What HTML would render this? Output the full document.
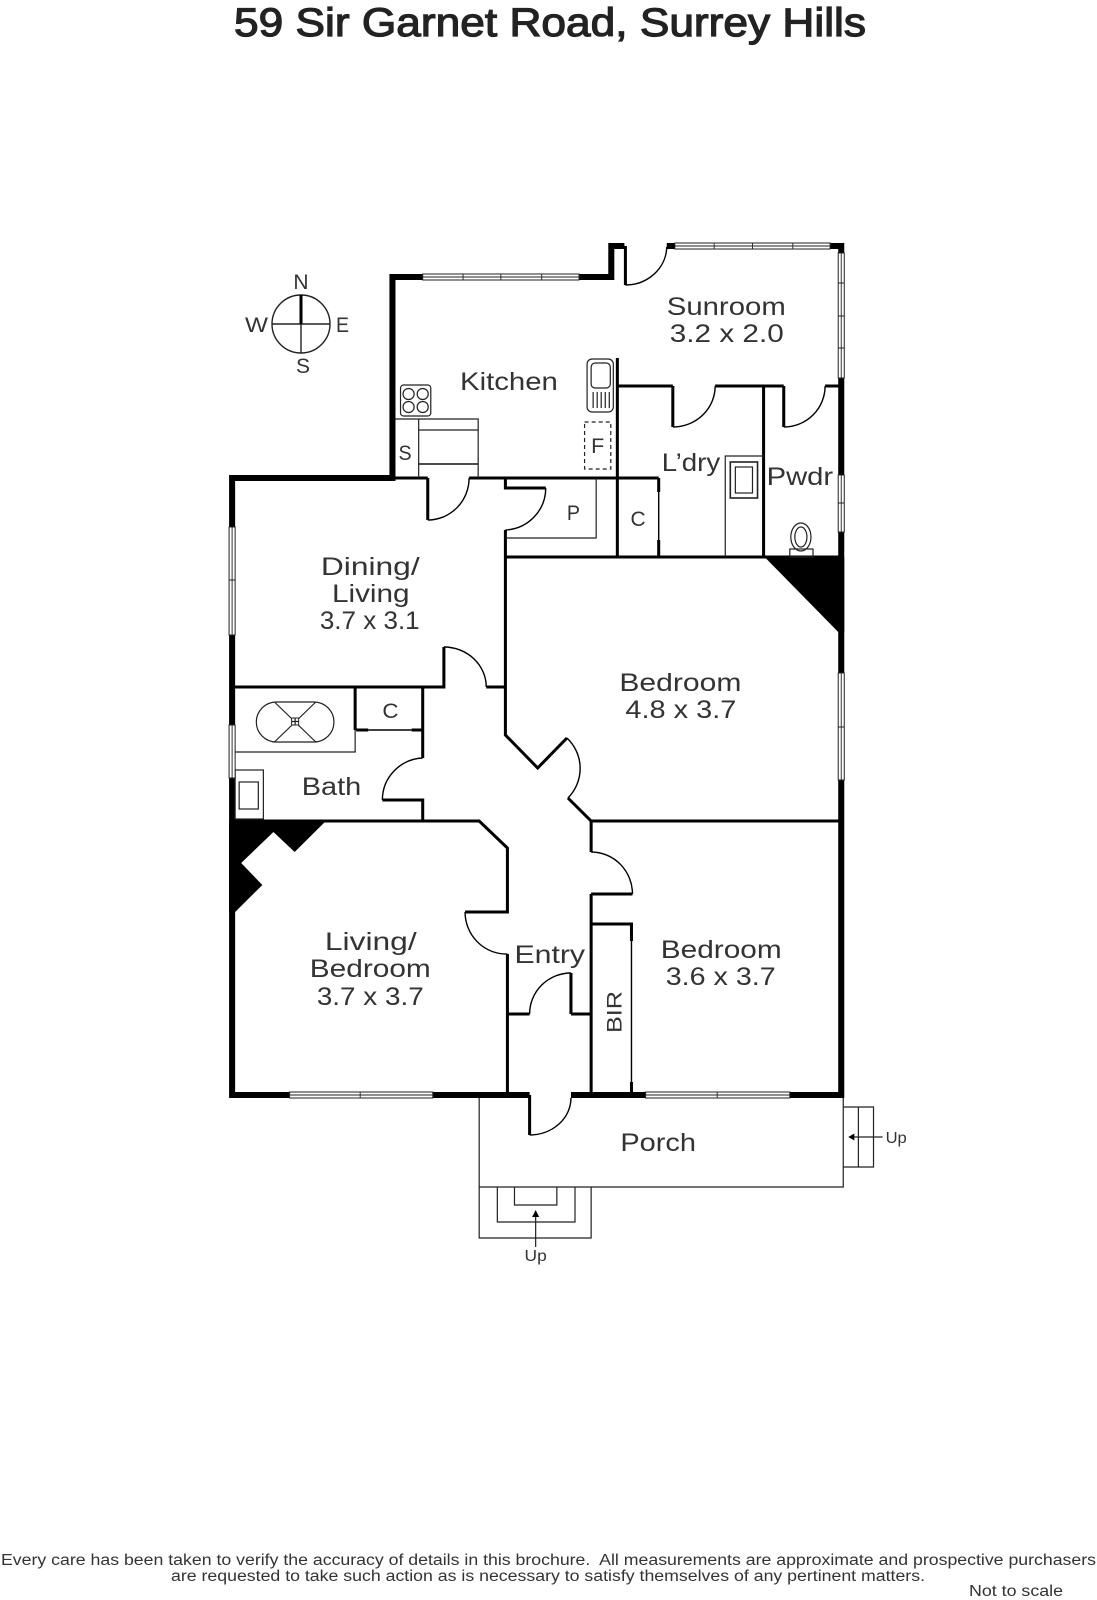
<!DOCTYPE html>
<html><head><meta charset="utf-8"><title>59 Sir Garnet Road, Surrey Hills</title>
<style>
html,body{margin:0;padding:0;background:#fff}
svg{display:block}
text{font-family:"Liberation Sans",sans-serif;fill:#333}
.r{font-size:25px}
.s{font-size:21.5px}
.u{font-size:16px}
.w{fill:none;stroke:#000;stroke-width:3}
.o{fill:none;stroke:#000;stroke-width:6}
.t{fill:none;stroke:#222;stroke-width:1.2}
.d{fill:none;stroke:#000;stroke-width:1.4}
.win{fill:#fff;stroke:#222;stroke-width:1}
</style></head><body>
<svg width="1097" height="1600" viewBox="0 0 1097 1600" xmlns="http://www.w3.org/2000/svg">
<rect width="1097" height="1600" fill="#fff"/>
<text x="234" y="36" font-size="40" textLength="632" lengthAdjust="spacingAndGlyphs" style="fill:#222;stroke:#222;stroke-width:1.2">59 Sir Garnet Road, Surrey Hills</text>

<!-- compass -->
<circle cx="301" cy="324" r="29" fill="none" stroke="#222" stroke-width="1.4"/>
<path d="M272 324H330M301 324V353" class="t" style="stroke-width:1.4"/>
<path d="M301 295V324" fill="none" stroke="#000" stroke-width="3"/>
<text x="301" y="289" font-size="21" text-anchor="middle">N</text>
<text x="245" y="332" font-size="21" textLength="23" lengthAdjust="spacingAndGlyphs">W</text>
<text x="336" y="332" font-size="21" textLength="13" lengthAdjust="spacingAndGlyphs">E</text>
<text x="303" y="373" font-size="21" text-anchor="middle">S</text>

<g transform="translate(220 0) scale(1.0085 1) translate(-220 0)">
<!-- black corners -->
<polygon points="229,821 325,821 294,852 273,832 241,863 262,885 235,912 229,912" fill="#000"/>
<polygon points="760,557 839,557 839,632 833,632" fill="#000"/>

<!-- outer walls -->
<path class="o" d="M527 1095H232V478H391V277H608V246H619M663 246H836V1095H568"/>
<rect x="616" y="243" width="5" height="6" fill="#000"/>
<!-- inner walls -->
<path class="w" d="M622 246V285M614 358V478M391 478H426M467 478H655M614 386H669M711 386H779M820 386H836M759 386V557M669 386V427M779 386V427M503 478V488H543M503 530V735L535 768L564 738M565 798L588 821H836M232 821H477L505 848V912H463M505 954V1095M588 821V852M588 894H629M588 894V1095M588 924H628V941M628 1082V1095M505 1014H527M568 1014H588M568 1014V973M527 1095V1135M426 478V520M503 557H836M614 478V557M655 478V492M655 540V557M232 687H442V647M484 687H503M354 687V730M421 687V758M381 800H421V821M355 730H367M410 730H421"/>
<!-- door arcs -->
<path class="d" d="M622 285A41 39 0 0 0 663 247M669 427A42 41 0 0 0 711 386M779 427A41 41 0 0 0 820 386M426 520A41 42 0 0 0 467 478M543 488A42 42 0 0 1 503 530M442 647A42 40 0 0 1 484 687M564 738A42 42 0 0 1 565 798M421 758A42 42 0 0 0 381 800M588 852A41 42 0 0 1 629 894M463 912A41 42 0 0 0 505 954M568 973A41 41 0 0 0 527 1014M527 1135A41 37 0 0 0 568 1098"/>
<path class="d" d="M628 941V1082M655 492V540M367 730H410"/>

<!-- thin fixtures -->
<path class="t" d="M503 538H593V478M721 557V456H759M394 419H476V478M417 419V478M417 430H476M232 752H354V730"/>
<path d="M417 464H476" stroke="#111" stroke-width="1.6" fill="none"/>
<rect x="726" y="462" width="27" height="36" class="t" style="stroke-width:1.6"/>
<rect x="731" y="467" width="17" height="26" class="t"/>
<ellipse cx="796" cy="537" rx="10" ry="14" class="t"/>
<ellipse cx="796" cy="537" rx="6" ry="10" class="t"/>
<rect x="785" y="549" width="23" height="8" class="t"/>
<rect x="399" y="385" width="30" height="31" rx="3" class="t"/>
<g class="t"><circle cx="407" cy="394" r="5.5"/><circle cx="421" cy="394" r="5.5"/><circle cx="407" cy="407" r="5.5"/><circle cx="421" cy="407" r="5.5"/></g>
<rect x="584" y="359" width="26" height="53" rx="5" class="t"/>
<rect x="588" y="363" width="19" height="25" rx="4" class="t"/>
<path class="t" d="M590 392V408M594 392V408M598 392V408M602 392V408M606 392V408"/>
<rect x="581.5" y="422" width="26" height="47" fill="none" stroke="#222" stroke-width="1.2" stroke-dasharray="4 3"/>
<rect x="256" y="702" width="77" height="40" rx="20" class="t"/>
<path class="t" d="M274 702L315 742M315 702L274 742"/>
<rect x="291" y="718" width="7" height="7" fill="#fff" stroke="#222" stroke-width="1"/>
<path class="t" d="M294.500 718V725M291 721.500H298"/>
<rect x="235" y="770" width="28" height="49" class="t"/>
<rect x="239" y="782" width="19" height="27" class="t"/>

<!-- porch & steps -->
<path class="t" d="M477 1098V1187H838V1098M838 1107H868V1167H838M853 1107V1167M477 1187V1238H588V1187M495 1187V1222H572V1187M512 1187V1205H554V1187"/>
<path class="t" d="M877 1137H848M533 1247V1216"/>
<polygon points="843,1137 849,1133.500 849,1140.500" fill="#000"/>
<polygon points="533,1210 529.500,1217 536.500,1217" fill="#000"/>

<!-- windows -->
<g class="win">
<rect x="421" y="274" width="155" height="6"/>
<rect x="671" y="243" width="154" height="6"/>
<rect x="833" y="253" width="6" height="125"/>
<rect x="833" y="475" width="6" height="57"/>
<rect x="833" y="673" width="6" height="107"/>
<rect x="229" y="527" width="6" height="108"/>
<rect x="229" y="725" width="6" height="53"/>
<rect x="289" y="1092" width="142" height="6"/>
<rect x="642" y="1092" width="143" height="6"/>
</g>
<path class="t" style="stroke-width:.9" d="M421 277H576M671 246H825M836 253V378M836 475V532M836 673V780M232 527V635M232 725V778M289 1095H431M642 1095H785M461 274V280M498.500 274V280M539 274V280M710 243V249M748 243V249M788 243V249M833 283H839M833 316H839M833 348H839M833 503H839M833 727H839M229 580H235M359 1092V1098M713 1092V1098"/>

<!-- labels -->
<text class="r" x="663" y="315" textLength="118" lengthAdjust="spacingAndGlyphs">Sunroom</text>
<text class="r" x="666" y="342" textLength="113" lengthAdjust="spacingAndGlyphs">3.2 x 2.0</text>
<text class="r" x="458" y="390" textLength="97" lengthAdjust="spacingAndGlyphs">Kitchen</text>
<text class="s" x="397" y="460" textLength="13" lengthAdjust="spacingAndGlyphs">S</text>
<text class="s" x="588" y="453" textLength="13" lengthAdjust="spacingAndGlyphs">F</text>
<text class="r" x="658" y="471" textLength="58" lengthAdjust="spacingAndGlyphs">L’dry</text>
<text class="r" x="762" y="485" textLength="66" lengthAdjust="spacingAndGlyphs">Pwdr</text>
<text class="s" x="564" y="520" textLength="13" lengthAdjust="spacingAndGlyphs">P</text>
<text class="s" x="627" y="526" textLength="15" lengthAdjust="spacingAndGlyphs">C</text>
<text class="r" x="320" y="575" textLength="98" lengthAdjust="spacingAndGlyphs">Dining/</text>
<text class="r" x="331" y="602" textLength="77" lengthAdjust="spacingAndGlyphs">Living</text>
<text class="r" x="319" y="629" textLength="99" lengthAdjust="spacingAndGlyphs">3.7 x 3.1</text>
<text class="r" x="616" y="691" textLength="121" lengthAdjust="spacingAndGlyphs">Bedroom</text>
<text class="r" x="622" y="718" textLength="110" lengthAdjust="spacingAndGlyphs">4.8 x 3.7</text>
<text class="r" x="301" y="795" textLength="59" lengthAdjust="spacingAndGlyphs">Bath</text>
<text class="s" x="381" y="718" textLength="16" lengthAdjust="spacingAndGlyphs">C</text>
<text class="r" x="324" y="950" textLength="91" lengthAdjust="spacingAndGlyphs">Living/</text>
<text class="r" x="309" y="977" textLength="120" lengthAdjust="spacingAndGlyphs">Bedroom</text>
<text class="r" x="316" y="1005" textLength="106" lengthAdjust="spacingAndGlyphs">3.7 x 3.7</text>
<text class="r" x="512" y="963" textLength="70" lengthAdjust="spacingAndGlyphs">Entry</text>
<text class="r" x="657" y="958" textLength="120" lengthAdjust="spacingAndGlyphs">Bedroom</text>
<text class="r" x="662" y="985" textLength="109" lengthAdjust="spacingAndGlyphs">3.6 x 3.7</text>
<text class="s" transform="translate(618 1033) rotate(-90)" textLength="42" lengthAdjust="spacingAndGlyphs">BIR</text>
<text class="r" x="617" y="1151" textLength="75" lengthAdjust="spacingAndGlyphs">Porch</text>
<text class="u" x="880" y="1143" textLength="21" lengthAdjust="spacingAndGlyphs">Up</text>
<text class="u" x="522" y="1261" textLength="22" lengthAdjust="spacingAndGlyphs">Up</text>
</g>

<text x="1" y="1565" font-size="15.500" textLength="1095" lengthAdjust="spacingAndGlyphs" xml:space="preserve">Every care has been taken to verify the accuracy of details in this brochure.  All measurements are approximate and prospective purchasers</text>
<text x="171" y="1581" font-size="15.500" textLength="754" lengthAdjust="spacingAndGlyphs">are requested to take such action as is necessary to satisfy themselves of any pertinent matters.</text>
<text x="966" y="1596" font-size="15.500" textLength="94" lengthAdjust="spacingAndGlyphs" transform="translate(3 0)">Not to scale</text>
</svg>
</body></html>
